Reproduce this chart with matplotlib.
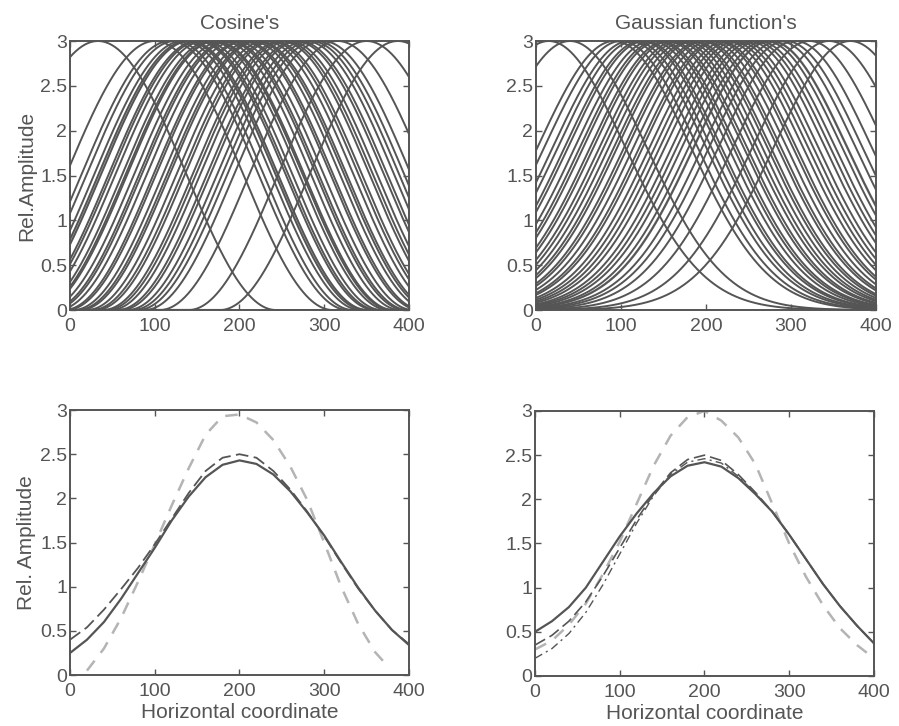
import numpy as np
import matplotlib
matplotlib.use("Agg")
import matplotlib.pyplot as plt

# ---- data -------------------------------------------------------------
amplitude = 3.0
x_max = 400

# peak positions of the individual basis functions (upper panels)
cosine_centers = [33, 100, 118, 124, 133, 138, 141, 150, 153, 158, 166, 170,
                  172, 180, 186, 189, 195, 203, 206, 214, 219, 222, 230, 236,
                  240, 249, 253, 258, 266, 270, 278, 284, 290, 298, 316, 350,
                  387]
cosine_halfwidth = 210
cosine_light_centers = [140]

gauss_centers = [15, 40, 92, 100, 110, 116, 124, 128, 136, 142, 146, 154, 158,
                 165, 170, 176, 182, 186, 194, 198, 205, 212, 216, 224, 230,
                 236, 242, 250, 256, 262, 270, 276, 286, 294, 305, 322, 345,
                 370]
gauss_sigma = 90
gauss_light_centers = [276]

# summed profiles (lower panels)
xs = [0, 20, 40, 60, 80, 100, 120, 140, 160, 180, 200,
      220, 240, 260, 280, 300, 320, 340, 360, 380, 400]

cos_sum_solid = [0.25, 0.40, 0.60, 0.86, 1.15, 1.44, 1.75, 2.02, 2.24, 2.38, 2.43,
                 2.39, 2.27, 2.08, 1.84, 1.58, 1.28, 0.99, 0.73, 0.51, 0.34]
cos_sum_dashed = [0.40, 0.54, 0.74, 0.97, 1.21, 1.48, 1.77, 2.06, 2.31, 2.46, 2.50,
                  2.46, 2.31, 2.10, 1.85, 1.57, 1.27, 0.98, 0.73, 0.51, 0.35]
xs_cos_target = [20, 40, 60, 80, 100, 120, 140, 160, 180, 200,
                 220, 240, 260, 280, 300, 320, 340, 360, 375]
cos_target = [0.05, 0.30, 0.64, 1.05, 1.48, 1.92, 2.34, 2.72, 2.93, 2.95,
              2.86, 2.66, 2.36, 1.98, 1.50, 1.00, 0.58, 0.26, 0.10]

gau_sum_solid = [0.50, 0.62, 0.78, 1.00, 1.29, 1.58, 1.84, 2.07, 2.26, 2.38, 2.42,
                 2.37, 2.24, 2.06, 1.86, 1.60, 1.32, 1.04, 0.79, 0.57, 0.37]
gau_sum_dashed = [0.35, 0.46, 0.62, 0.84, 1.13, 1.45, 1.77, 2.06, 2.30, 2.45, 2.50,
                  2.44, 2.28, 2.08, 1.86, 1.60, 1.32, 1.04, 0.79, 0.57, 0.37]
gau_sum_dashdot = [0.20, 0.31, 0.48, 0.72, 1.03, 1.38, 1.73, 2.04, 2.28, 2.42, 2.46,
                   2.41, 2.26, 2.07, 1.86, 1.60, 1.32, 1.04, 0.79, 0.57, 0.37]
gau_target = [0.30, 0.40, 0.58, 0.82, 1.15, 1.52, 1.95, 2.38, 2.72, 2.93, 3.00,
              2.89, 2.70, 2.40, 1.95, 1.50, 1.12, 0.80, 0.54, 0.35, 0.20]

x_ticks = [0, 100, 200, 300, 400]
y_ticks = [0, 0.5, 1, 1.5, 2, 2.5, 3]
y_ticklabels = ["0", "0.5", "1", "1.5", "2", "2.5", "3"]

# ---- style --------------------------------------------------------------
INK = "#555555"
LIGHT = "#b4b4b4"
plt.rcParams["font.family"] = ["Liberation Sans", "DejaVu Sans"]
plt.rcParams["text.color"] = INK
plt.rcParams["axes.labelcolor"] = INK

fig = plt.figure(figsize=(8.99, 7.26), dpi=100)
fig.patch.set_facecolor("white")

ax_tl = fig.add_axes([0.0779, 0.573, 0.377, 0.3705])
ax_tr = fig.add_axes([0.5962, 0.573, 0.378, 0.3705])
ax_bl = fig.add_axes([0.0779, 0.0702, 0.377, 0.365])
ax_br = fig.add_axes([0.5951, 0.0689, 0.377, 0.365])

x = np.linspace(0, x_max, 801)


def cos_bump(c):
    d = np.clip(np.abs(x - c) / cosine_halfwidth, 0, 1)
    return amplitude * 0.5 * (1 + np.cos(np.pi * d))


def gauss_bump(c):
    return amplitude * np.exp(-(x - c) ** 2 / (2 * gauss_sigma ** 2))


for c in cosine_light_centers:
    ax_tl.plot(x, cos_bump(c), color=LIGHT, lw=1.8)
for c in cosine_centers:
    ax_tl.plot(x, cos_bump(c), color=INK, lw=1.4)

for c in gauss_light_centers:
    ax_tr.plot(x, gauss_bump(c), color=LIGHT, lw=1.8)
for c in gauss_centers:
    ax_tr.plot(x, gauss_bump(c), color=INK, lw=1.4)

ax_bl.plot(xs_cos_target, cos_target, color=LIGHT, lw=1.8, dashes=(5, 4))
ax_bl.plot(xs, cos_sum_dashed, color=INK, lw=1.3, dashes=(7, 3))
ax_bl.plot(xs, cos_sum_solid, color=INK, lw=1.6)

ax_br.plot(xs, gau_target, color=LIGHT, lw=1.8, dashes=(5, 4))
ax_br.plot(xs, gau_sum_dashdot, color=INK, lw=1.0, dashes=(6, 3, 1.5, 3))
ax_br.plot(xs, gau_sum_dashed, color=INK, lw=1.2, dashes=(7, 3))
ax_br.plot(xs, gau_sum_solid, color=INK, lw=1.6)

for ax in (ax_tl, ax_tr, ax_bl, ax_br):
    ax.set_xlim(0, x_max)
    ax.set_ylim(0, 3)
    ax.set_xticks(x_ticks)
    ax.set_yticks(y_ticks)
    ax.set_yticklabels(y_ticklabels)
    ax.tick_params(direction="in", length=4, width=1.0, colors=INK,
                   labelsize=14, top=True, right=True)
    ax.tick_params(axis="x", pad=6)
    ax.tick_params(axis="y", pad=2)
    for s in ax.spines.values():
        s.set_color(INK)
        s.set_linewidth(1.4)

ax_tl.set_title("Cosine's", fontsize=15, color=INK, pad=9)
ax_tr.set_title("Gaussian function's", fontsize=15, color=INK, pad=9)
ax_tl.set_ylabel("Rel.Amplitude", fontsize=15, labelpad=3)
ax_bl.set_ylabel("Rel. Amplitude", fontsize=15, labelpad=3)
ax_bl.set_xlabel("Horizontal coordinate", fontsize=15, labelpad=2)
ax_br.set_xlabel("Horizontal coordinate", fontsize=15, labelpad=2)

fig.savefig("out.png", dpi=100, facecolor="white")
